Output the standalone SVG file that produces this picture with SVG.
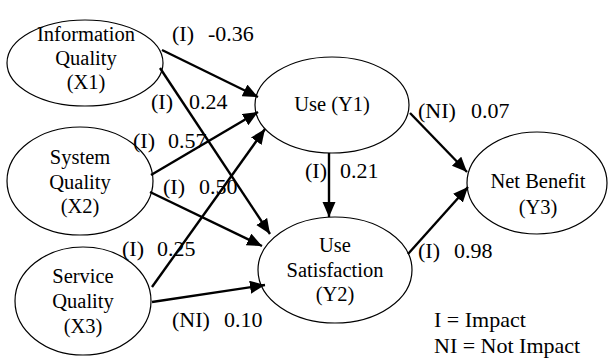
<svg xmlns="http://www.w3.org/2000/svg" width="608" height="361" viewBox="0 0 608 361">
<defs>
<marker id="arr" markerUnits="userSpaceOnUse" markerWidth="16" markerHeight="14" refX="15" refY="6.5" orient="auto">
<path d="M0,0 L15,6.5 L0,13 z" fill="#000"/>
</marker>
<style>
.node ellipse{fill:#fff;stroke:#000;stroke-width:1.2}
.node text{font-size:20.5px;fill:#000;text-anchor:middle}
.lbl{font-size:22px;fill:#000}
.edges line{stroke:#000;stroke-width:2.4;marker-end:url(#arr)}
</style>
</defs>
<rect width="608" height="361" fill="#fff"/>
<g font-family="Liberation Serif, Times New Roman, serif">
<g id="X1" class="node">
<ellipse cx="85" cy="63" rx="78" ry="43"/>
<text x="86" y="41">Information</text>
<text x="86" y="65">Quality</text>
<text x="86" y="89">(X1)</text>
</g>
<g id="X2" class="node">
<ellipse cx="80" cy="181" rx="73" ry="54"/>
<text x="80" y="164">System</text>
<text x="80" y="189">Quality</text>
<text x="80" y="213">(X2)</text>
</g>
<g id="X3" class="node">
<ellipse cx="83" cy="301" rx="68" ry="54"/>
<text x="83" y="283">Service</text>
<text x="83" y="308">Quality</text>
<text x="83" y="333">(X3)</text>
</g>
<g id="Y1" class="node">
<ellipse cx="332" cy="105" rx="77" ry="48"/>
<text x="332" y="111">Use (Y1)</text>
</g>
<g id="Y2" class="node">
<ellipse cx="335" cy="270" rx="77" ry="53"/>
<text x="335" y="252">Use</text>
<text x="335" y="277">Satisfaction</text>
<text x="335" y="301">(Y2)</text>
</g>
<g id="Y3" class="node">
<ellipse cx="537" cy="183" rx="70" ry="51"/>
<text x="538" y="188">Net Benefit</text>
<text x="538" y="214">(Y3)</text>
</g>
<g id="labels" class="lbl">
<text y="41"><tspan x="172">(I)</tspan><tspan x="208">-0.36</tspan></text>
<text y="109"><tspan x="151">(I)</tspan><tspan x="189">0.24</tspan></text>
<text y="148"><tspan x="133">(I)</tspan><tspan x="168">0.57</tspan></text>
<text y="194"><tspan x="163">(I)</tspan><tspan x="199">0.50</tspan></text>
<text y="256"><tspan x="122">(I)</tspan><tspan x="157">0.25</tspan></text>
<text y="327"><tspan x="172">(NI)</tspan><tspan x="224">0.10</tspan></text>
<text y="178"><tspan x="305">(I)</tspan><tspan x="340">0.21</tspan></text>
<text y="118"><tspan x="418">(NI)</tspan><tspan x="471">0.07</tspan></text>
<text y="258"><tspan x="418">(I)</tspan><tspan x="454">0.98</tspan></text>
<text x="434" y="327">I = Impact</text>
<text x="434" y="353">NI = Not Impact</text>
</g>
</g>
<g id="connectors" class="edges">
<line x1="162" y1="50" x2="258" y2="97"/>
<line x1="160" y1="68" x2="270" y2="234"/>
<line x1="151" y1="175" x2="258" y2="112"/>
<line x1="152" y1="287" x2="265" y2="129"/>
<line x1="150" y1="192" x2="262" y2="246"/>
<line x1="152" y1="302" x2="265" y2="285"/>
<line x1="329" y1="153" x2="329" y2="217"/>
<line x1="410" y1="113" x2="467" y2="172"/>
<line x1="408" y1="254" x2="468" y2="187"/>
</g>
</svg>
